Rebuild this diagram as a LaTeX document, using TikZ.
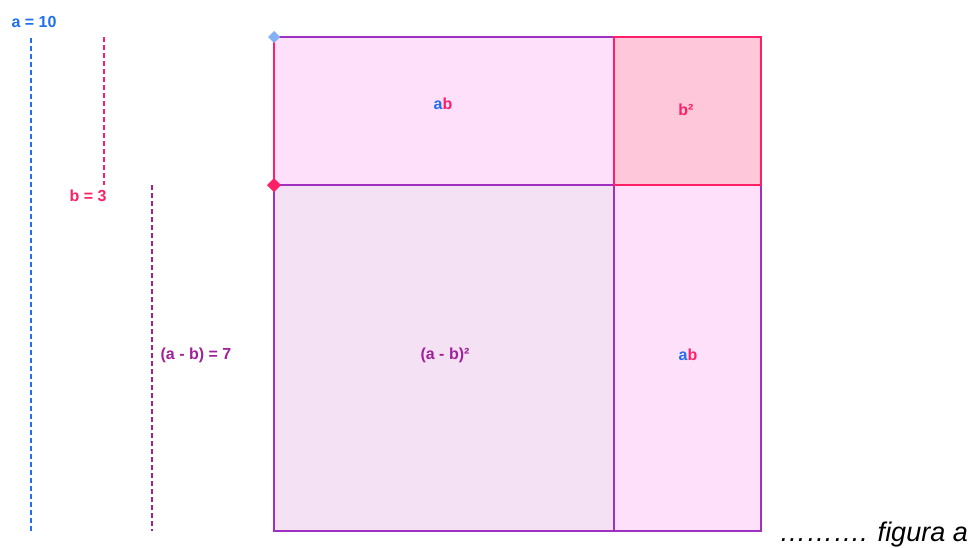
\documentclass[tikz,border=0pt]{standalone}
\usepackage{fontspec}
\setmainfont{Liberation Sans}
\usetikzlibrary{calc}
\definecolor{ablue}{HTML}{1F6FEF}
\definecolor{bpink}{HTML}{FF1F66}
\definecolor{abpurp}{HTML}{A0209A}
\definecolor{edgepurp}{HTML}{A030C0}
\definecolor{fillab}{HTML}{FFE0FA}
\definecolor{fillbb}{HTML}{FFC8DA}
\definecolor{fillaa}{HTML}{F4E2F4}
\begin{document}
\begin{tikzpicture}[x=1pt,y=-1pt,
  lbl/.style={font=\fontsize{16}{18}\selectfont\bfseries,inner sep=0pt},
  guide/.style={dash pattern=on 5pt off 3pt,line width=1.1pt},
  edge/.style={line width=1.6pt}]
\useasboundingbox (0,0) rectangle (973,547);
% corners
\coordinate (TL) at (274,37);
\coordinate (TM) at (614,37);
\coordinate (TR) at (761,37);
\coordinate (ML) at (274,185);
\coordinate (MM) at (614,185);
\coordinate (MR) at (761,185);
\coordinate (BL) at (274,531);
\coordinate (BM) at (614,531);
\coordinate (BR) at (761,531);
% fills
\fill[fillab] (TL) rectangle (MM);
\fill[fillbb] (TM) rectangle (MR);
\fill[fillaa] (ML) rectangle (BM);
\fill[fillab] (MM) rectangle (BR);
% edges
\draw[edge,edgepurp] (TL) -- (TM);
\draw[edge,edgepurp] (ML) -- (MR);
\draw[edge,edgepurp] (ML) -- (BL) -- (BR) -- (MR);
\draw[edge,edgepurp] (MM) -- (BM);
\draw[edge,bpink] (TM) -- (TR) -- (MR) -- (MM) -- cycle;
\draw[edge,bpink] (TL) -- (ML);
% points
\fill[ablue!55!white] ($(TL)+(-6,0)$) -- ($(TL)+(0,-6)$) -- ($(TL)+(6,0)$) -- ($(TL)+(0,6)$) -- cycle;
\fill[bpink] ($(ML)+(-7,0)$) -- ($(ML)+(0,-7)$) -- ($(ML)+(7,0)$) -- ($(ML)+(0,7)$) -- cycle;
% guides
\coordinate (a1) at (31,38); \coordinate (a2) at (31,531);
\coordinate (b1) at (104,37); \coordinate (b2) at (104,185);
\coordinate (c1) at (152,185); \coordinate (c2) at (152,531);
\draw[guide,draw=ablue] (a1) -- (a2);
\draw[guide,draw=bpink] (b1) -- (b2);
\draw[guide,draw=abpurp] (c1) -- (c2);
% labels
\node[lbl,text=ablue] (la) at (34,22) {a = 10};
\node[lbl,text=bpink] (lb) at (88,196) {b = 3};
\node[lbl,text=abpurp] (lc) at (196,355) {(a - b) = 7};
\node[lbl] (ab1) at (443,104) {\textcolor{ablue}{a}\textcolor{bpink}{b}};
\node[lbl,text=bpink] (bsq) at (686,110) {b²};
\node[lbl,text=abpurp] (amb) at (445,355) {(a - b)²};
\node[lbl] (ab2) at (688,355) {\textcolor{ablue}{a}\textcolor{bpink}{b}};
\node[inner sep=0pt,anchor=base east,font=\fontsize{27}{30}\selectfont\itshape] (fig) at (968,541) {………. figura a};
\end{tikzpicture}
\end{document}
